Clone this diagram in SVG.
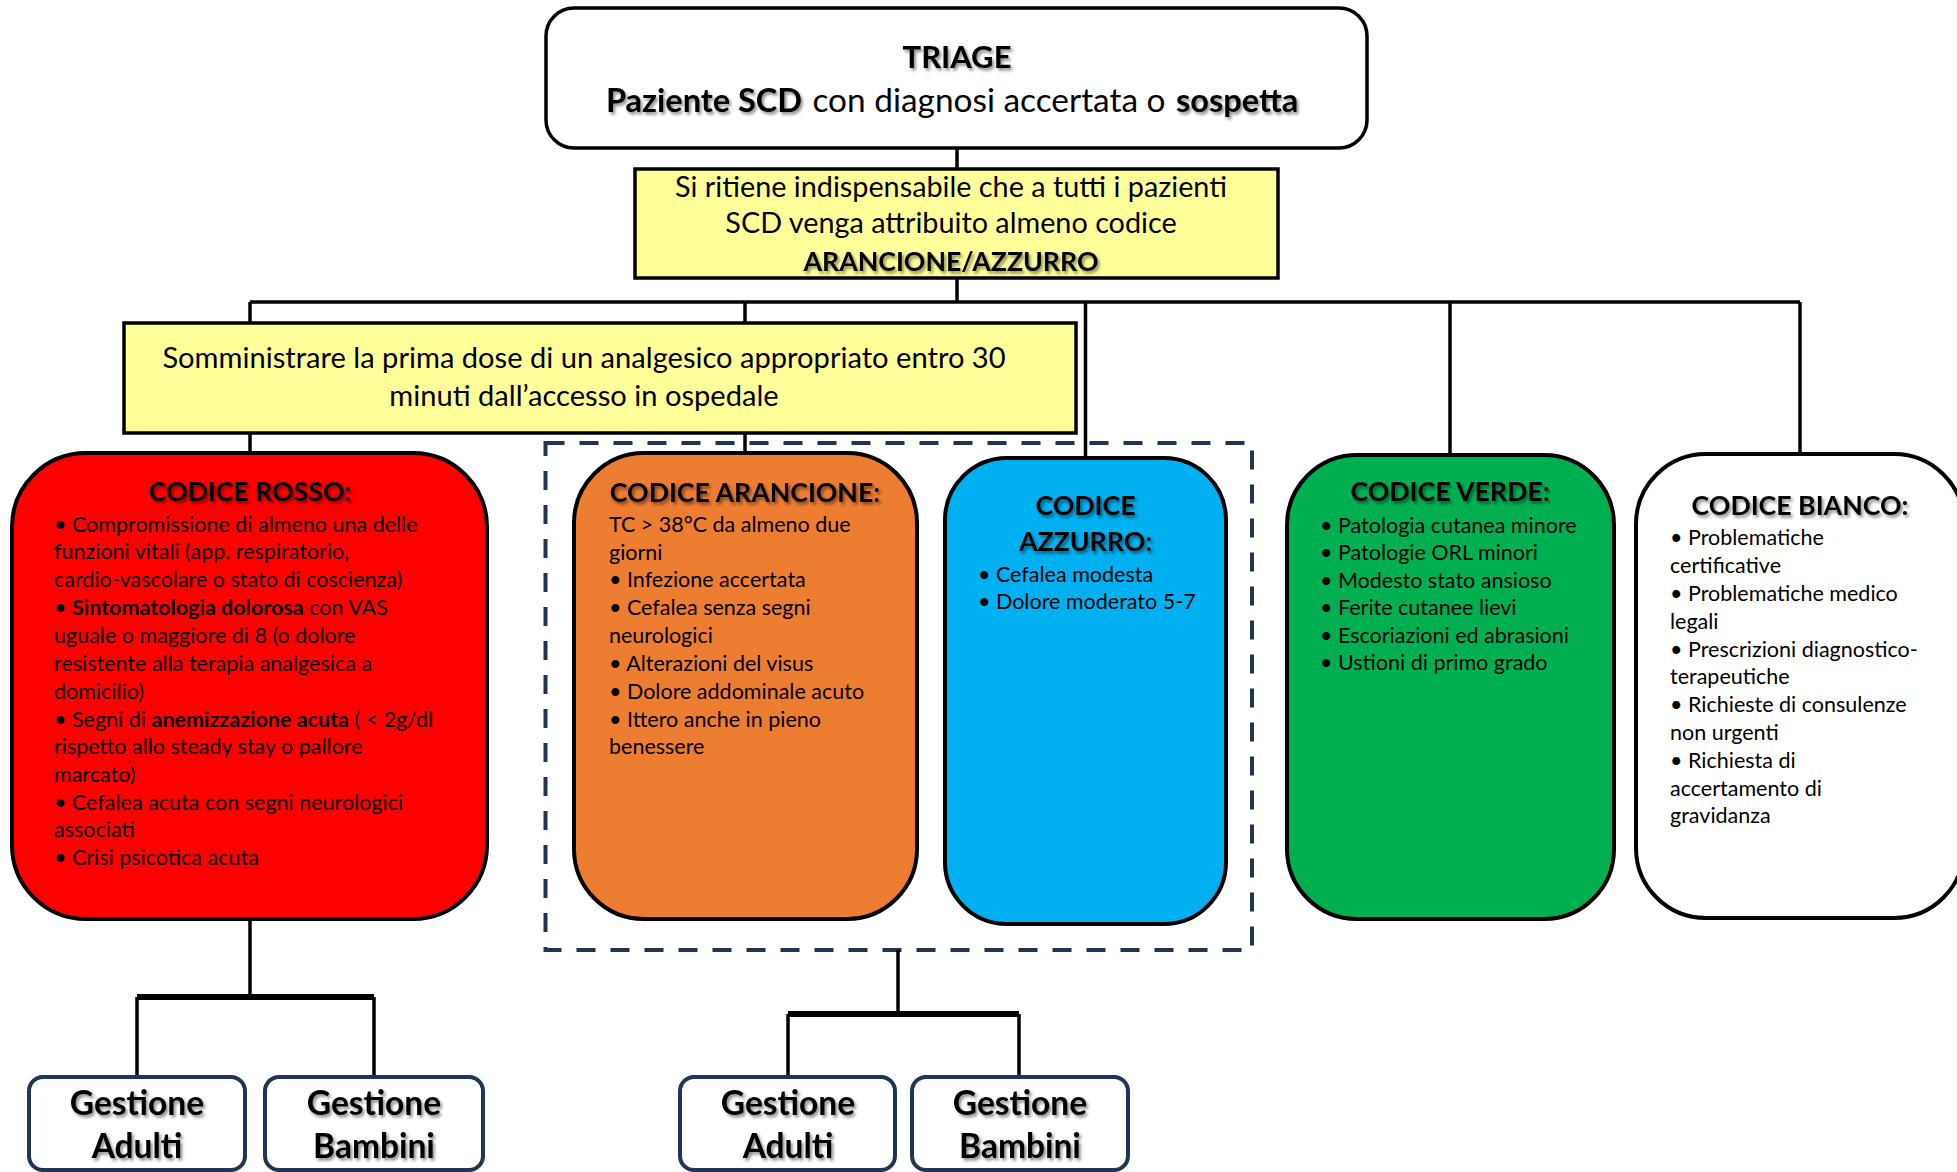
<svg xmlns="http://www.w3.org/2000/svg" width="1957" height="1172" viewBox="0 0 1957 1172">
  <defs>
    <filter id="shadow" x="-10%" y="-30%" width="120%" height="160%">
      <feDropShadow dx="2" dy="2.5" stdDeviation="1.6" flood-color="#000" flood-opacity="0.45"/>
    </filter>
    <style>
      .box { stroke: #000; stroke-width: 4; }
      .yellow { fill: #FFFF99; stroke: #000; stroke-width: 3.5; }
      .gest { fill: #fff; stroke: #1F3552; stroke-width: 4; }
      .wire { fill: none; stroke: #000; stroke-width: 3.5; }
      .bar { fill: none; stroke: #000; stroke-width: 6; }
      .dash { fill: none; stroke: #1F3552; stroke-width: 4; stroke-dasharray: 19 15; }
      text { font-family: Lato, "Open Sans", "Liberation Sans", sans-serif; fill: #000; }
      .title { font-weight: 700; font-size: 26.7px; text-anchor: middle; filter: url(#shadow); }
      .body { font-size: 21.5px; }
      .big { font-size: 32.5px; }
      .b { font-weight: 700; }
      .gtxt { font-weight: 700; font-size: 33.5px; text-anchor: middle; filter: url(#shadow); }
    </style>
  </defs>

  <rect width="1957" height="1172" fill="#fff"/>

  <!-- dashed frame grouping the orange and light-blue codes -->
  <g id="frame-arancione-azzurro">
    <rect class="dash" x="545.5" y="443" width="706.5" height="507"/>
  </g>

  <!-- connectors -->
  <g id="connectors">
    <path class="wire" d="M957 148 V169"/>
    <path class="wire" d="M957 278 V302"/>
    <path class="wire" d="M250 302 H1800"/>
    <path class="wire" d="M250 302 V453"/>
    <path class="wire" d="M745 302 V453"/>
    <path class="wire" d="M1085.5 302 V458"/>
    <path class="wire" d="M1450 302 V455"/>
    <path class="wire" d="M1800 302 V454"/>
    <path class="wire" d="M250 919 V997"/>
    <path class="bar" d="M137 997 H374"/>
    <path class="wire" d="M137 997 V1077"/>
    <path class="wire" d="M374 997 V1077"/>
    <path class="wire" d="M898 950 V1014"/>
    <path class="bar" d="M788 1014 H1019"/>
    <path class="wire" d="M788 1014 V1077"/>
    <path class="wire" d="M1019 1014 V1077"/>
  </g>

  <!-- triage header -->
  <g id="triage">
    <rect x="546" y="8" width="821" height="140" rx="28" fill="#fff" stroke="#000" stroke-width="3.5"/>
    <text class="title" x="957" y="68" style="font-size:31px">TRIAGE</text>
    <text class="big b" x="802" y="112" text-anchor="end" filter="url(#shadow)">Paziente SCD</text>
    <text class="big" x="989" y="112" text-anchor="middle" style="font-size:33.4px">con diagnosi accertata o</text>
    <text class="big b" x="1176" y="112" filter="url(#shadow)">sospetta</text>
  </g>

  <!-- minimum code note -->
  <g id="codice-minimo">
    <rect class="yellow" x="635" y="169" width="643" height="109"/>
    <text x="951" y="197" font-size="28.8" text-anchor="middle">Si ritiene indispensabile che a tutti i pazienti</text>
    <text x="951" y="233" font-size="28.8" text-anchor="middle">SCD venga attribuito almeno codice</text>
    <text x="951" y="271" font-size="26.7" text-anchor="middle" font-weight="700" filter="url(#shadow)">ARANCIONE/AZZURRO</text>
  </g>

  <!-- analgesic note -->
  <g id="analgesico">
    <rect class="yellow" x="124" y="323" width="952" height="110"/>
    <text x="584" y="368" font-size="29.1" text-anchor="middle">Somministrare la prima dose di un analgesico appropriato entro 30</text>
    <text x="584" y="406" font-size="29.1" text-anchor="middle">minuti dall’accesso in ospedale</text>
  </g>

  <!-- red code -->
  <g id="codice-rosso">
    <rect class="box" x="12" y="453" width="475" height="466" rx="74" fill="#FF0000"/>
    <text class="title" x="250" y="501">CODICE ROSSO:</text>
    <text class="body" x="54" y="532">• Compromissione di almeno una delle</text>
    <text class="body" x="54" y="559">funzioni vitali (app. respiratorio,</text>
    <text class="body" x="54" y="587">cardio-vascolare o stato di coscienza)</text>
    <text class="body" x="54" y="615">• <tspan class="b">Sintomatologia dolorosa</tspan> con VAS</text>
    <text class="body" x="54" y="643">uguale o maggiore di 8 (o dolore</text>
    <text class="body" x="54" y="671">resistente alla terapia analgesica a</text>
    <text class="body" x="54" y="699">domicilio)</text>
    <text class="body" x="54" y="727">• Segni di <tspan class="b">anemizzazione acuta</tspan> ( &lt; 2g/dl</text>
    <text class="body" x="54" y="754">rispetto allo steady stay o pallore</text>
    <text class="body" x="54" y="782">marcato)</text>
    <text class="body" x="54" y="810">• Cefalea acuta con segni neurologici</text>
    <text class="body" x="54" y="837">associati</text>
    <text class="body" x="54" y="865">• Crisi psicotica acuta</text>
  </g>

  <!-- orange code -->
  <g id="codice-arancione">
    <rect class="box" x="574" y="453" width="343" height="466" rx="70" fill="#ED7D31"/>
    <text class="title" x="745" y="502">CODICE ARANCIONE:</text>
    <text class="body" x="609" y="532">TC &gt; 38°C da almeno due</text>
    <text class="body" x="609" y="559.5">giorni</text>
    <text class="body" x="609" y="587">• Infezione accertata</text>
    <text class="body" x="609" y="614.5">• Cefalea senza segni</text>
    <text class="body" x="609" y="643">neurologici</text>
    <text class="body" x="609" y="671">• Alterazioni del visus</text>
    <text class="body" x="609" y="699">• Dolore addominale acuto</text>
    <text class="body" x="609" y="726.5">• Ittero anche in pieno</text>
    <text class="body" x="609" y="754">benessere</text>
  </g>

  <!-- light-blue code -->
  <g id="codice-azzurro">
    <rect class="box" x="945" y="458" width="281" height="466" rx="62" fill="#00B0F0"/>
    <text class="title" x="1085.5" y="515">CODICE</text>
    <text class="title" x="1085.5" y="551">AZZURRO:</text>
    <text class="body" x="978" y="582">• Cefalea modesta</text>
    <text class="body" x="978" y="609">• Dolore moderato 5-7</text>
  </g>

  <!-- green code -->
  <g id="codice-verde">
    <rect class="box" x="1287" y="455" width="327" height="464" rx="70" fill="#00B050"/>
    <text class="title" x="1450" y="501">CODICE VERDE:</text>
    <text class="body" x="1320" y="533">• Patologia cutanea minore</text>
    <text class="body" x="1320" y="560">• Patologie ORL minori</text>
    <text class="body" x="1320" y="587.5">• Modesto stato ansioso</text>
    <text class="body" x="1320" y="615">• Ferite cutanee lievi</text>
    <text class="body" x="1320" y="643">• Escoriazioni ed abrasioni</text>
    <text class="body" x="1320" y="670">• Ustioni di primo grado</text>
  </g>

  <!-- white code -->
  <g id="codice-bianco">
    <rect class="box" x="1636" y="454" width="328" height="464" rx="70" fill="#fff"/>
    <text class="title" x="1800" y="514.5">CODICE BIANCO:</text>
    <text class="body" x="1670" y="545">• Problematiche</text>
    <text class="body" x="1670" y="573">certificative</text>
    <text class="body" x="1670" y="601">• Problematiche medico</text>
    <text class="body" x="1670" y="629">legali</text>
    <text class="body" x="1670" y="657">• Prescrizioni diagnostico-</text>
    <text class="body" x="1670" y="684">terapeutiche</text>
    <text class="body" x="1670" y="712">• Richieste di consulenze</text>
    <text class="body" x="1670" y="740">non urgenti</text>
    <text class="body" x="1670" y="768">• Richiesta di</text>
    <text class="body" x="1670" y="796">accertamento di</text>
    <text class="body" x="1670" y="823">gravidanza</text>
  </g>

  <!-- management boxes -->
  <g id="rosso-adulti">
    <rect class="gest" x="29" y="1077" width="216" height="93" rx="14"/>
    <text class="gtxt" x="137" y="1115">Gestione</text>
    <text class="gtxt" x="137" y="1158">Adulti</text>
  </g>
  <g id="rosso-bambini">
    <rect class="gest" x="265" y="1077" width="218" height="93" rx="14"/>
    <text class="gtxt" x="374" y="1115">Gestione</text>
    <text class="gtxt" x="374" y="1158">Bambini</text>
  </g>
  <g id="arancione-azzurro-adulti">
    <rect class="gest" x="680" y="1077" width="215" height="93" rx="14"/>
    <text class="gtxt" x="788" y="1115">Gestione</text>
    <text class="gtxt" x="788" y="1158">Adulti</text>
  </g>
  <g id="arancione-azzurro-bambini">
    <rect class="gest" x="912" y="1077" width="216" height="93" rx="14"/>
    <text class="gtxt" x="1020" y="1115">Gestione</text>
    <text class="gtxt" x="1020" y="1158">Bambini</text>
  </g>
</svg>
